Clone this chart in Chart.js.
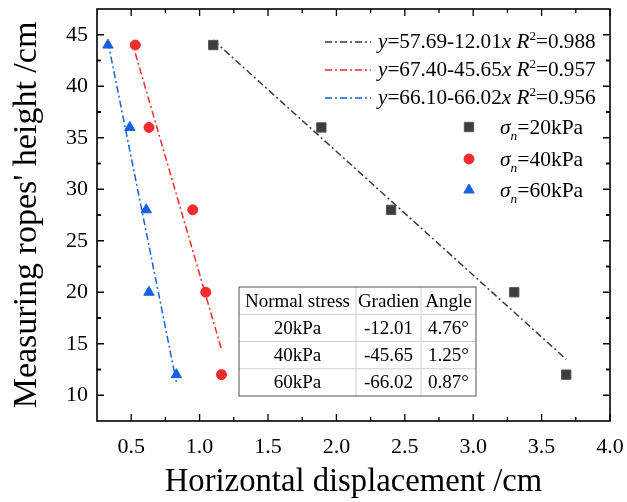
<!DOCTYPE html>
<html>
<head>
<meta charset="utf-8">
<script src="https://cdn.jsdelivr.net/npm/chart.js@4.4.0/dist/chart.umd.min.js"></script>
<style>
  html, body { margin: 0; padding: 0; background: #fff; }
  canvas { display: block; }
</style>
</head>
<body>
<canvas id="ropeChart" width="627" height="502"></canvas>
<script>
// rope heights (cm) and horizontal displacement (cm) under each normal stress
const heights = [44, 36, 28, 20, 12];
const disp20 = [1.10, 1.89, 2.40, 3.30, 3.68];
const disp40 = [0.53, 0.63, 0.95, 1.045, 1.16];
const disp60 = [0.33, 0.49, 0.61, 0.63, 0.83];

// linear fits y = a + b*x
const stressLabels = ['20kPa', '40kPa', '60kPa'];
const intercepts = [57.69, 67.40, 66.10];
const gradients = [-12.01, -45.65, -66.02];
const rSquared = [0.988, 0.957, 0.956];
const angles = [4.76, 1.25, 0.87];

const xTickValues = [0.5, 1.0, 1.5, 2.0, 2.5, 3.0, 3.5, 4.0];
const yTickValues = [10, 15, 20, 25, 30, 35, 40, 45];

const colors = ['#3d3d3d', '#f52a2a', '#1662dc'];
const serif = '"Liberation Serif", "Times New Roman", serif';

const toPoints = xs => xs.map((x, i) => ({ x: x, y: heights[i] }));
const fitLine = (i, xs) => [Math.min(...xs), Math.max(...xs)]
  .map(x => ({ x: x, y: intercepts[i] + gradients[i] * x }));

const dispSets = [disp20, disp40, disp60];
const pointStyles = ['rect', 'circle', 'triangle'];
const pointSizes = [6.6, 5, 6];

const datasets = [];
dispSets.forEach((xs, i) => {
  datasets.push({
    label: 'σn=' + stressLabels[i],
    data: toPoints(xs),
    pointStyle: pointStyles[i],
    pointRadius: pointSizes[i],
    pointBackgroundColor: colors[i],
    pointBorderColor: i === 0 ? '#555' : colors[i],
    pointBorderWidth: 1,
    showLine: false,
    order: 0
  });
});
dispSets.forEach((xs, i) => {
  datasets.push({
    label: 'fit ' + stressLabels[i],
    data: fitLine(i, xs),
    showLine: true,
    borderColor: colors[i],
    borderWidth: 1.5,
    borderDash: [7, 3, 2, 3],
    pointRadius: 0,
    order: 1
  });
});

// draws a run of text pieces, some italic / superscript / subscript
function drawRich(ctx, parts, x, y, size) {
  let cx = x;
  parts.forEach(p => {
    const s = (p.sup || p.sub) ? size * 0.62 : size;
    ctx.font = (p.it ? 'italic ' : '') + s + 'px ' + serif;
    const dy = p.sup ? -size * 0.4 : (p.sub ? size * 0.28 : 0);
    ctx.fillText(p.t, cx, y + dy);
    cx += ctx.measureText(p.t).width;
  });
}

const decorations = {
  id: 'decorations',
  afterDraw(chart) {
    const ctx = chart.ctx;
    const { left, right, top, bottom } = chart.chartArea;
    const xs = chart.scales.x, ys = chart.scales.y;
    ctx.save();

    // frame
    ctx.strokeStyle = '#000';
    ctx.lineWidth = 1.6;
    ctx.strokeRect(left, top, right - left, bottom - top);

    // inward ticks on all four sides
    ctx.lineWidth = 1.3;
    const xStep = 0.5, yStep = 5;
    const tickX = (v, len) => {
      const px = xs.getPixelForValue(v);
      ctx.beginPath();
      ctx.moveTo(px, bottom); ctx.lineTo(px, bottom - len);
      ctx.moveTo(px, top); ctx.lineTo(px, top + len);
      ctx.stroke();
    };
    const tickY = (v, len) => {
      const py = ys.getPixelForValue(v);
      ctx.beginPath();
      ctx.moveTo(left, py); ctx.lineTo(left + len, py);
      ctx.moveTo(right, py); ctx.lineTo(right - len, py);
      ctx.stroke();
    };
    xTickValues.forEach(v => {
      tickX(v, 7);
      if (v - xStep / 2 > xs.min) tickX(v - xStep / 2, 4);
    });
    yTickValues.forEach(v => {
      tickY(v, 7);
      if (v - yStep / 2 > ys.min) tickY(v - yStep / 2, 4);
      if (v + yStep / 2 < ys.max) tickY(v + yStep / 2, 4);
    });

    // legend: fit lines
    ctx.textAlign = 'left';
    ctx.textBaseline = 'alphabetic';
    const lineRows = [42, 70, 98];
    lineRows.forEach((ly, i) => {
      ctx.strokeStyle = colors[i];
      ctx.lineWidth = 1.5;
      ctx.setLineDash([7, 3, 2, 3]);
      ctx.beginPath();
      ctx.moveTo(325, ly); ctx.lineTo(371, ly);
      ctx.stroke();
      ctx.setLineDash([]);
      ctx.fillStyle = '#000';
      drawRich(ctx, [
        { t: 'y', it: true },
        { t: '=' + intercepts[i].toFixed(2) + '-' + Math.abs(gradients[i]).toFixed(2) },
        { t: 'x', it: true },
        { t: ' ' },
        { t: 'R', it: true },
        { t: '2', sup: true },
        { t: '=' + rSquared[i].toFixed(3) }
      ], 378, ly + 6, 21.2);
    });

    // legend: markers
    const markRows = [127, 159, 190];
    markRows.forEach((my, i) => {
      ctx.fillStyle = colors[i];
      ctx.strokeStyle = i === 0 ? '#555' : colors[i];
      ctx.lineWidth = 1;
      Chart.helpers.drawPoint(ctx, {
        pointStyle: pointStyles[i], radius: pointSizes[i], borderWidth: 1
      }, 469, my);
      ctx.fillStyle = '#000';
      drawRich(ctx, [
        { t: 'σ', it: true },
        { t: 'n', it: true, sub: true },
        { t: '=' + stressLabels[i] }
      ], 500, my + 7, 21.5);
    });

    // table of gradients and angles
    const tl = 239, tr = 476, tt = 287, tb = 396;
    const cols = [tl, 356, 421, tr];
    const rowH = (tb - tt) / 4;
    ctx.fillStyle = '#fff';
    ctx.fillRect(tl, tt, tr - tl, tb - tt);
    ctx.strokeStyle = '#d0d0d0';
    ctx.lineWidth = 1;
    for (let r = 1; r < 4; r++) {
      ctx.beginPath();
      ctx.moveTo(tl, tt + r * rowH); ctx.lineTo(tr, tt + r * rowH);
      ctx.stroke();
    }
    [cols[1], cols[2]].forEach(cx => {
      ctx.beginPath();
      ctx.moveTo(cx, tt); ctx.lineTo(cx, tb);
      ctx.stroke();
    });
    ctx.strokeStyle = '#555';
    ctx.strokeRect(tl, tt, tr - tl, tb - tt);

    const rows = [['Normal stress', 'Gradien', 'Angle']];
    stressLabels.forEach((s, i) => {
      rows.push([s, gradients[i].toFixed(2), angles[i].toFixed(2) + '°']);
    });
    ctx.fillStyle = '#000';
    ctx.font = '19px ' + serif;
    ctx.textAlign = 'center';
    ctx.textBaseline = 'middle';
    rows.forEach((row, r) => {
      row.forEach((txt, c) => {
        ctx.fillText(txt, (cols[c] + cols[c + 1]) / 2, tt + (r + 0.5) * rowH + 1);
      });
    });

    ctx.restore();
  }
};

new Chart(document.getElementById('ropeChart'), {
  type: 'scatter',
  data: { datasets: datasets },
  plugins: [decorations],
  options: {
    responsive: false,
    animation: false,
    devicePixelRatio: 1,
    layout: { padding: { top: 9, right: 17, left: 0, bottom: 0 } },
    plugins: {
      legend: { display: false },
      tooltip: { enabled: false }
    },
    scales: {
      x: {
        type: 'linear',
        min: 0.25,
        max: 4.0,
        afterBuildTicks: s => { s.ticks = xTickValues.map(v => ({ value: v })); },
        afterFit: s => { s.height = 81; s.paddingLeft = 0; s.paddingRight = 0; },
        grid: { display: false, drawTicks: false },
        border: { display: false },
        ticks: {
          color: '#000',
          font: { family: serif, size: 22 },
          padding: 13,
          maxRotation: 0,
          autoSkip: false,
          callback: v => v.toFixed(1)
        },
        title: {
          display: true,
          text: 'Horizontal displacement /cm',
          color: '#000',
          font: { family: serif, size: 32.7 },
          padding: 0
        }
      },
      y: {
        type: 'linear',
        min: 7.5,
        max: 47.5,
        afterBuildTicks: s => { s.ticks = yTickValues.map(v => ({ value: v })); },
        afterFit: s => { s.width = 97; s.paddingTop = 0; s.paddingBottom = 0; },
        grid: { display: false, drawTicks: false },
        border: { display: false },
        ticks: {
          color: '#000',
          font: { family: serif, size: 22 },
          padding: 9,
          autoSkip: false,
          callback: v => String(v)
        },
        title: {
          display: true,
          text: "Measuring ropes' height /cm",
          color: '#000',
          font: { family: serif, size: 34 },
          padding: { top: 7 }
        }
      }
    }
  }
});
</script>
</body>
</html>
